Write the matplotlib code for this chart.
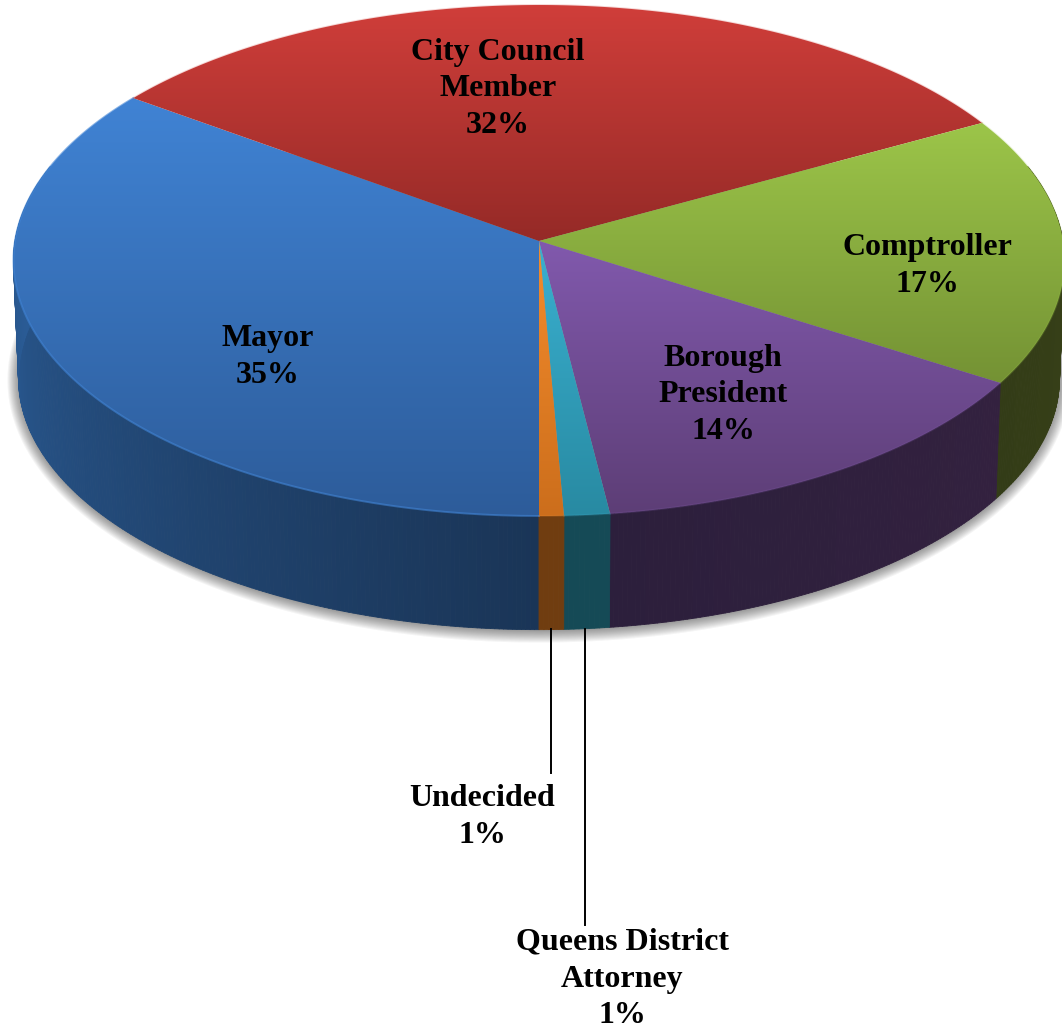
import numpy as np
import matplotlib
matplotlib.use('Agg')
import matplotlib.pyplot as plt
from matplotlib.collections import PolyCollection
from matplotlib.colors import LinearSegmentedColormap, to_rgb
from matplotlib.patches import Polygon

# Slices, clockwise from the front of the pie
categories = ['Mayor', 'City Council\nMember', 'Comptroller', 'Borough\nPresident',
              'Queens District\nAttorney', 'Undecided']
values = [35.0, 32.0, 17.0, 14.0, 1.3, 0.7]
pct_labels = ['35%', '32%', '17%', '14%', '1%', '1%']

# Top face gradient (upper colour, lower colour)
top_colors = [('#4083d4', '#2d5c9a'), ('#d03e3a', '#952a27'), ('#9cc549', '#749234'),
              ('#8159ad', '#5d3e76'), ('#3ab0d0', '#288aa2'), ('#f48c2c', '#cc6e1c')]
# Side wall gradient (left colour, right colour)
side_colors = [('#2f67a8', '#1a3557'), ('#1a3557', '#1a3557'), ('#3c4519', '#333c17'),
               ('#33213f', '#2c1f3c'), ('#154a56', '#154a56'), ('#703d10', '#703d10')]
rim_alpha = [0.6, 0.2, 0.2, 0.2, 0.2, 0.2]

label_x = [268, 498, 927, 723, 622, 482]
label_y = [357, 89, 266, 395, 979, 817]

# Pie geometry in image pixels, with a bit of perspective
CX, CY = 539, 241
RX, RY, K = 524, 254, 0.0763
RX_LOW, RY_LOW, CY_LOW = 519, 250, 359


def project(theta, cy=CY, rx=RX, ry=RY):
    u, v = -np.sin(theta), -np.cos(theta)
    d = 1 + K * v
    return CX + rx * u / d, cy - ry * v / d


fig = plt.figure(figsize=(10.62, 10.32), dpi=100)
ax = fig.add_axes([0, 0, 1, 1])
ax.axis('off')

edges = np.cumsum([0] + values) / sum(values) * 2 * np.pi

# Soft shadow under the wall
full = np.linspace(0, 2 * np.pi, 400)
for grow in np.linspace(11, 0, 12):
    sx, sy = project(full, CY_LOW + 1, RX_LOW + grow, RY_LOW + grow)
    ax.add_patch(Polygon(np.column_stack([sx, sy]), facecolor='#303030', edgecolor='none',
                         alpha=0.05, zorder=1))

# Side wall, one narrow strip at a time so the shade runs along it
for i in range(len(values)):
    t = np.linspace(edges[i], edges[i + 1], max(int(values[i] * 8), 6))
    x_top, y_top = project(t)
    x_low, y_low = project(t, CY_LOW, RX_LOW, RY_LOW)
    c0, c1 = np.array(to_rgb(side_colors[i][0])), np.array(to_rgb(side_colors[i][1]))
    quads, cols = [], []
    for j in range(len(t) - 1):
        if np.cos(t[j]) < -0.3 and np.cos(t[j + 1]) < -0.3:
            continue  # hidden behind the top face
        quads.append([(x_top[j], y_top[j]), (x_top[j + 1], y_top[j + 1]),
                      (x_low[j + 1], y_low[j + 1]), (x_low[j], y_low[j])])
        f = j / max(len(t) - 2, 1)
        # Mayor runs left to right going backwards along the angle
        cols.append(c1 * (1 - f) + c0 * f if i == 0 else c0 * (1 - f) + c1 * f)
    ax.add_collection(PolyCollection(quads, facecolors=cols, edgecolors=cols,
                                     linewidths=0.6, zorder=2))

# Top face, each slice with its own vertical gradient
for i in range(len(values)):
    t = np.linspace(edges[i], edges[i + 1], 200)
    x, y = project(t)
    xs = np.r_[CX, x]
    ys = np.r_[CY, y]
    cmap = LinearSegmentedColormap.from_list('s%d' % i, top_colors[i])
    grad = np.linspace(0, 1, 256).reshape(-1, 1)
    im = ax.imshow(grad, cmap=cmap, aspect='auto', zorder=3, interpolation='bilinear',
                   extent=[xs.min(), xs.max(), ys.max(), ys.min()])
    clip = Polygon(np.column_stack([xs, ys]), transform=ax.transData, facecolor='none', edgecolor='none')
    ax.add_patch(clip)
    im.set_clip_path(clip)
    # Light bevel on the rim
    ax.plot(x, y, color=top_colors[i][0], lw=1.4, alpha=rim_alpha[i], zorder=4)

# Leader lines for the two thin slices
ax.plot([584.5, 584.5], [629, 925], color='black', lw=1.4, zorder=5)
ax.plot([550.5, 550.5], [629, 773], color='black', lw=1.4, zorder=5)

for i in range(len(categories)):
    ax.text(label_x[i], label_y[i], categories[i] + '\n' + pct_labels[i], ha='center', va='center',
            family='Liberation Serif', fontweight='bold', fontsize=23, color='black',
            linespacing=1.35, zorder=6)

ax.set_xlim(0, 1062)
ax.set_ylim(1032, 0)
fig.savefig('out.png', dpi=100, facecolor='white')
